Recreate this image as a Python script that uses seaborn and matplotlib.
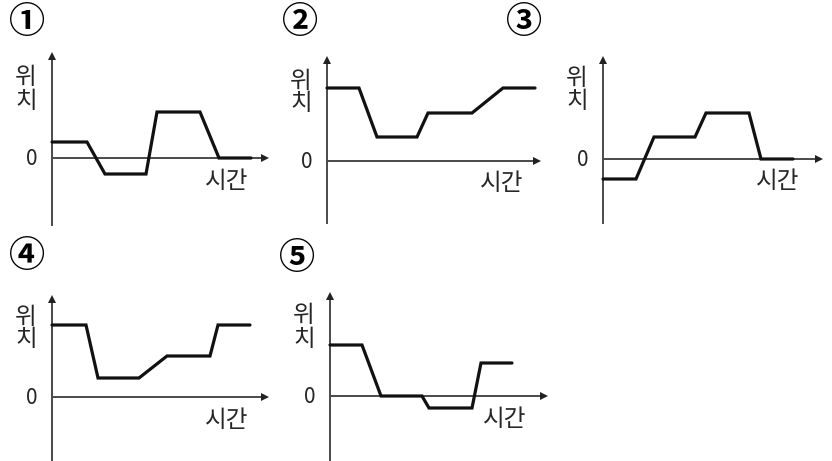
import matplotlib
matplotlib.use("Agg")
import matplotlib.pyplot as plt
import seaborn as sns
import pandas as pd

sns.set_theme(style="white")
plt.rcParams["font.family"] = ["Noto Sans CJK KR", "DejaVu Sans"]

# Position-time graphs for the five choices (time and position in drawing units)
labels = ["①", "②", "③", "④", "⑤"]
times_1 = [0, 35, 53, 94, 105, 148, 167, 199]
pos_1 = [16, 16, -16, -16, 46, 46, 0, 0]
times_2 = [0, 32, 50, 90, 101, 145, 176, 208]
pos_2 = [73, 73, 24, 24, 48, 48, 73, 73]
times_3 = [0, 33, 51, 92, 103, 146, 158, 190]
pos_3 = [-20, -20, 22, 22, 46, 46, 0, 0]
times_4 = [0, 34, 46, 87, 115, 158, 166, 198]
pos_4 = [72, 72, 19, 19, 41, 41, 72, 72]
times_5 = [0, 32, 51, 92, 99, 142, 151, 182]
pos_5 = [51, 51, 0, 0, -12, -12, 33, 33]

y_label = ["위", "치"]
x_label = "시간"
zero_label = "0"

series = [(times_1, pos_1), (times_2, pos_2), (times_3, pos_3),
          (times_4, pos_4), (times_5, pos_5)]

W, H = 832, 461
fig = plt.figure(figsize=(W / 100, H / 100), dpi=100)

# origin of each graph on the canvas (pixels from top-left)
origins = [(52, 158), (327, 161), (603, 159), (52, 397), (330, 396)]
x_tips = [216, 213, 219, 216, 217]
y_tops = [105, 104, 102, 102, 104]
y_bottoms = [-67, -62, -64, -64, -65]
number_pos = [(27, 22), (300, 23), (524, 23), (27, 257), (297, 258)]

XL, XR, YB, YT = -40, 230, -70, 110
axis_color = "#4a4a4a"

for i, ((t, p), (ox, oy)) in enumerate(zip(series, origins)):
    left = (ox + XL) / W
    bottom = (H - (oy - YB)) / H
    ax = fig.add_axes([left, bottom, (XR - XL) / W, (YT - YB) / H])
    ax.set_xlim(XL, XR)
    ax.set_ylim(YB, YT)
    ax.patch.set_alpha(0)

    for s in ["top", "right"]:
        ax.spines[s].set_visible(False)
    ax.spines["left"].set_position(("data", 0))
    ax.spines["bottom"].set_position(("data", 0))
    ax.spines["left"].set_bounds(y_bottoms[i], y_tops[i] - 4)
    ax.spines["bottom"].set_bounds(0, x_tips[i] - 4)
    for s in ["left", "bottom"]:
        ax.spines[s].set_color(axis_color)
        ax.spines[s].set_linewidth(1.4)
        ax.spines[s].set_clip_on(False)
        ax.spines[s].set_zorder(1)
    ax.set_xticks([])
    ax.set_yticks([])

    # arrowheads on the axes
    ax.plot(x_tips[i] - 3.5, 0, marker=">", color="#222222", markersize=6,
            clip_on=False, markeredgewidth=0)
    ax.plot(0, y_tops[i] - 3.5, marker="^", color="#222222", markersize=6,
            clip_on=False, markeredgewidth=0)

    df = pd.DataFrame({"time": t, "position": p})
    sns.lineplot(data=df, x="time", y="position", ax=ax, color="#111111",
                 linewidth=2.3, sort=False, estimator=None, zorder=3)
    for ln in ax.lines:
        ln.set_clip_on(False)
        ln.set_solid_joinstyle("miter")
    ax.set_xlabel("")
    ax.set_ylabel("")

    ax.text(-26, 80, y_label[0], fontsize=17, ha="center", va="center")
    ax.text(-26, 57, y_label[1], fontsize=17, ha="center", va="center")
    ax.text(-20, -1, zero_label, fontsize=15, ha="center", va="center")
    ax.text(175, -23, x_label, fontsize=17, ha="center", va="center")

for lab, (nx, ny) in zip(labels, number_pos):
    fig.text(nx / W, 1 - ny / H, lab, fontsize=26, ha="center", va="center",
             color="black", fontweight="bold")

fig.savefig("out.png", dpi=100)
